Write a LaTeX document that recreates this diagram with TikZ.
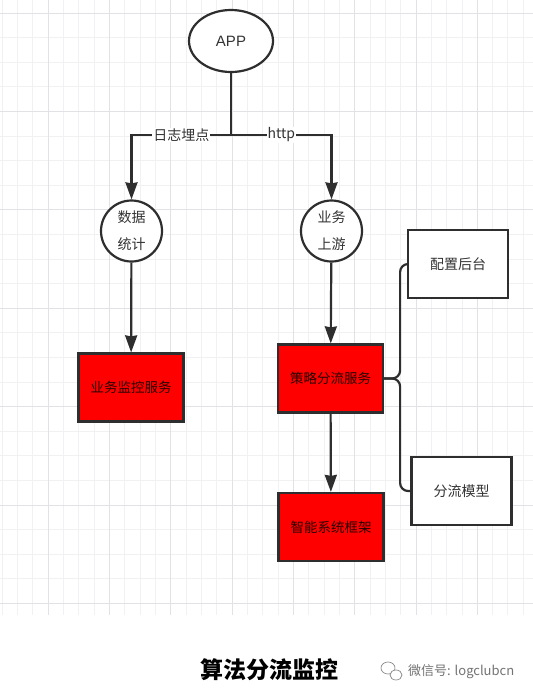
\documentclass[tikz,border=0pt]{standalone}
\usepackage{fontspec}
\setmainfont{Liberation Sans}
\newfontfamily\cjk{Noto Sans CJK SC}
\usetikzlibrary{arrows.meta,shapes}
\usetikzlibrary{calc}
\definecolor{linegray}{HTML}{2E2E2E}
\definecolor{gridminor}{HTML}{F1F1F3}
\definecolor{gridmajor}{HTML}{E2E2E6}
\tikzstyle{oval}=[ellipse,draw=linegray,fill=white,line width=2.2pt,minimum width=84pt,minimum height=62pt,inner sep=0pt,font=\fontsize{15}{17}\selectfont,text=black!80]
\tikzstyle{round}=[circle,draw=linegray,fill=white,line width=2.2pt,minimum size=61pt,inner sep=0pt,align=center,font=\cjk\fontsize{14}{27}\selectfont,text=black!80]
\tikzstyle{redbox}=[rectangle,draw=linegray,fill=red,line width=2.2pt,minimum width=105pt,minimum height=68pt,font=\cjk\fontsize{13.5}{16}\selectfont,text=black!85!red]
\tikzstyle{whitebox}=[rectangle,draw=linegray,fill=white,line width=2.2pt,minimum width=100pt,minimum height=68pt,font=\cjk\fontsize{14}{16}\selectfont,text=black!80]
\tikzstyle{edge} = [draw,line width=2.2pt,linegray,-{Stealth[length=17pt,width=12pt,inset=1pt]}]
\tikzstyle{branch} = [draw,line width=2.2pt,linegray]
\tikzstyle{weight} = [fill=white,inner sep=1pt,font=\cjk\fontsize{14}{16}\selectfont,text=black!80]

\begin{document}
\begin{tikzpicture}[x=1pt,y=-1pt]
    \useasboundingbox[fill=white] (0,0) rectangle (533,697);
    % Background grid
    \foreach \x in {2,17.33,...,533}
        \draw[gridminor,line width=0.8pt] (\x,0) -- (\x,615);
    \foreach \y in {13,37.6,...,610}
        \draw[gridminor,line width=0.8pt] (0,\y) -- (533,\y);
    \foreach \x in {48,109.33,...,533}
        \draw[gridmajor,line width=0.9pt] (\x,0) -- (\x,615);
    \foreach \y in {13,111.4,...,610}
        \draw[gridmajor,line width=0.9pt] (0,\y) -- (533,\y);

    % First we draw the vertices
    \node[oval] (app) at (231,41) {APP};
    \coordinate (fork) at (231,135);

    \foreach \pos/ \name/ \text in {{(131.5,231)/stat/数据\\统计},{(331.5,231)/up/业务\\上游}}
        \node[round] (\name) at \pos {\text};

    \foreach \pos/ \name/ \text in {{(131,387.5)/mon/业务监控服务},{(330.5,378.5)/split/策略分流服务},{(331,527)/sys/智能系统框架}}
        \node[redbox] (\name) at \pos {\text};

    \foreach \pos/ \name/ \text in {{(458,264)/cfg/配置后台},{(461.5,491)/model/分流模型}}
        \node[whitebox] (\name) at \pos {\text};

    % Connect vertices with edges and draw labels
    \path[branch] (app) -- (fork);
    \path[edge] (fork) -- node[weight] {日志埋点} (fork -| stat) -- (stat);
    \path[edge] (fork) -- node[weight] {http} (fork -| up) -- (up);

    \foreach \source/ \dest in {stat/mon, up/split, split/sys}
        \path[edge] (\source) -- (\dest);

    \foreach \dest in {cfg, model}
        \path[branch,rounded corners=8pt] (split.east) -- ++(16,0) |- (\dest.west);

    % Caption
    \node[font=\cjk\bfseries\fontsize{23}{26}\selectfont] (title) at (269,670) {算法分流监控};
    \node[anchor=west,inner sep=0pt,font=\cjk\fontsize{13}{15}\selectfont,text=black!55] (mark) at (408,672) {微信号: logclubcn};
    \draw[black!45,line width=0.7pt] (388,668) ellipse (7 and 6);
    \draw[black!45,fill=white,line width=0.7pt] (396,675) ellipse (6 and 5);
\end{tikzpicture}
\end{document}
